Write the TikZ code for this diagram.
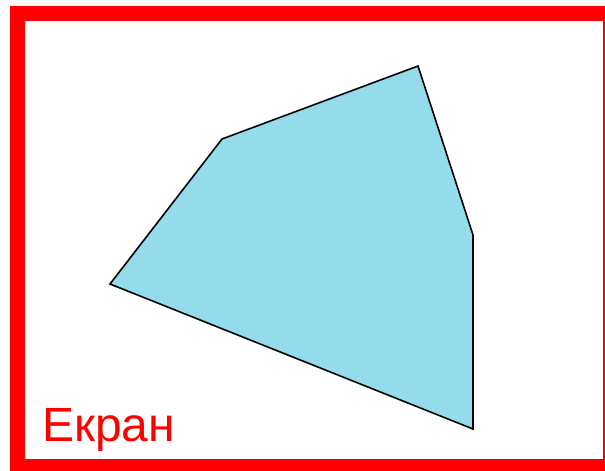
\documentclass[tikz,border=0pt]{standalone}
\usepackage{fontspec}
\setmainfont{Liberation Sans}
\usepackage{tikz}
\usetikzlibrary{positioning}
\definecolor{screenred}{RGB}{255,0,0}
\definecolor{polyblue}{RGB}{148,219,236}

\begin{document}
\begin{tikzpicture}[
  x=1pt, y=-1pt,
  frame/.style={draw=screenred, line width=15pt},
  poly/.style={draw=black, fill=polyblue, line width=1.6pt, line join=miter},
  label/.style={font=\fontsize{48}{50}\selectfont, text=screenred, inner sep=0pt, anchor=base west},
]
\useasboundingbox (0,0) rectangle (605,471);
% Screen frame
\draw[frame] (17.5,13.5) rectangle (610,466.5);

% Polygon corners
\coordinate (p1) at (110,284);
\coordinate (p2) at (222,139);
\coordinate (p3) at (418,66);
\coordinate (p4) at (473,235);
\coordinate (p5) at (473,429);
\draw[poly] (p1) -- (p2) -- (p3) -- (p4) -- (p5) -- cycle;

% Caption
\node[label] (screen) at (42,441) {Екран};
\end{tikzpicture}
\end{document}
